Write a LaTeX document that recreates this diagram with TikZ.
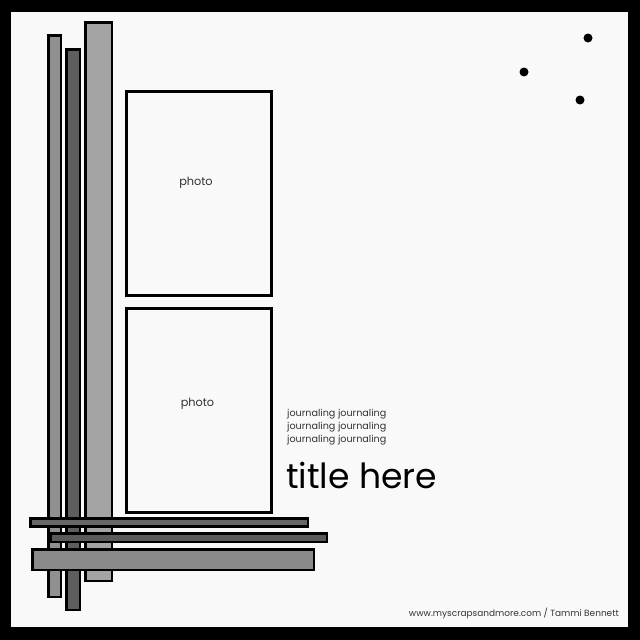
\documentclass[tikz,border=0pt]{standalone}
\usepackage{fontspec}
\setmainfont{Poppins}
\begin{document}
\begin{tikzpicture}[x=1pt,y=-1pt,
  bar/.style={draw=black,line width=2.6pt},
  photobox/.style={draw=black,line width=3.2pt,fill=paper,minimum width=145pt,minimum height=204pt,inner sep=0pt},
  phototext/.style={inner sep=0pt,font=\fontsize{11.3}{13}\selectfont,text=black!80},
  journ/.style={anchor=north west,inner sep=0pt,align=left,font=\fontsize{9.6}{12.8}\selectfont,text=black!80},
  dot/.style={circle,fill=black,inner sep=0pt,minimum size=9pt}]
\definecolor{paper}{HTML}{F9F9F9}
\definecolor{gA}{HTML}{909090}
\definecolor{gB}{HTML}{5E5E5E}
\definecolor{gC}{HTML}{A4A4A4}
\definecolor{gD}{HTML}{666666}
\definecolor{gE}{HTML}{5A5A5A}
\definecolor{gF}{HTML}{8A8A8A}
\useasboundingbox (0,0) rectangle (640,640);
\fill[black] (0,0) rectangle (640,640);
\fill[paper] (11,12) rectangle (628,627);
% vertical bars
\draw[bar,fill=gA] (48.2,35.2) rectangle (60.8,596.8);
\draw[bar,fill=gB] (66.2,49.2) rectangle (79.8,609.8);
\draw[bar,fill=gC] (85.2,22.2) rectangle (111.8,580.8);
% horizontal bars
\draw[bar,fill=gD] (30.2,518.2) rectangle (307.8,526.2);
\draw[bar,fill=gE] (50.2,533.2) rectangle (326.8,541.8);
\draw[bar,fill=gF] (32.2,549.2) rectangle (313.8,569.8);
% photos
\node[photobox] (p1) at (199,193.5) {};
\node[photobox] (p2) at (199,410.5) {};
\node[phototext] (t1) at (196,182.5) {photo};
\node[phototext] (t2) at (197.5,403.5) {photo};
% journaling
\node[journ] (j) at (287,409) {journaling journaling\\journaling journaling\\journaling journaling};
\node[anchor=base west,inner sep=0pt,font=\fontsize{34.6}{40}\selectfont] (t) at (286,488) {title here};
\node[anchor=base east,inner sep=0pt,font=\fontsize{8.95}{10}\selectfont,text=black!80] (f) at (619,616) {www.myscrapsandmore.com / Tammi Bennett};
% dots
\node[dot] (d1) at (588,38) {};
\node[dot] (d2) at (524,72) {};
\node[dot] (d3) at (580,100) {};
\end{tikzpicture}
\end{document}
